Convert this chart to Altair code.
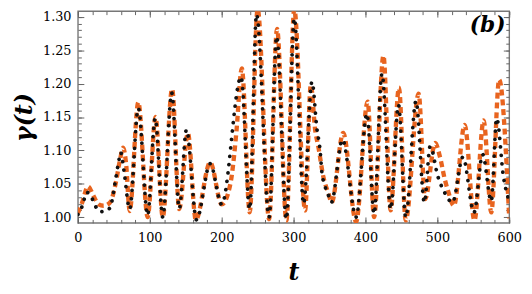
import altair as alt
import pandas as pd

# ---- data ----
orange_t = [0, 6, 14, 22, 28.8, 35.6, 44.7, 52.4, 58.4, 63, 67, 72, 84, 97, 108, 118, 131, 141, 153, 164,
            184, 200, 209, 213.7, 220.5, 228, 239, 250, 266, 277, 290, 301, 316, 324, 330, 334.7, 341.5,
            348.4, 353, 369, 387, 403, 412, 425, 435, 446.6, 456, 474, 483, 497, 503.7, 510.5, 515, 523,
            538, 551.6, 564.4, 575, 586, 600]
orange_y = [1.006, 1.022, 1.046, 1.031, 1.019, 1.017, 1.022, 1.050, 1.085, 1.104, 1.080, 1.009, 1.172, 1.000,
            1.150, 1.000, 1.192, 1.012, 1.126, 0.996, 1.082, 1.019, 1.036, 1.060, 1.128, 1.223, 1.007, 1.312,
            0.997, 1.282, 0.995, 1.312, 1.010, 1.198, 1.131, 1.104, 1.060, 1.036, 1.022, 1.126, 0.993, 1.173,
            1.000, 1.242, 1.010, 1.194, 0.995, 1.185, 1.027, 1.111, 1.090, 1.056, 1.039, 1.017, 1.138, 0.995,
            1.145, 1.007, 1.206, 0.998]

black_t = [0, 3, 8, 12, 17, 24, 31, 38, 44.7, 51.6, 57, 59.5, 64, 72, 84, 97, 107.5, 118, 130.5, 141, 151,
           165, 184, 200, 227, 239, 248.5, 266, 276.5, 290, 301, 314, 325.6, 332.4, 337, 339.3, 343.8, 348.4,
           352.5, 368, 387, 402, 412, 423, 435, 446, 456, 470.3, 482, 490, 501, 510.5, 521, 535.6, 551, 563,
           575, 582.6, 592, 600]
black_y = [1.004, 1.008, 1.024, 1.037, 1.034, 1.017, 1.008, 1.009, 1.014, 1.051, 1.085, 1.097, 1.070, 1.012,
           1.163, 1.003, 1.148, 1.000, 1.186, 1.013, 1.131, 0.996, 1.080, 1.019, 1.210, 1.012, 1.304, 1.000,
           1.271, 0.997, 1.298, 1.020, 1.203, 1.133, 1.099, 1.068, 1.046, 1.033, 1.022, 1.116, 1.000, 1.155,
           1.005, 1.215, 1.012, 1.168, 1.000, 1.174, 1.022, 1.106, 1.060, 1.036, 1.022, 1.090, 1.007, 1.094,
           1.024, 1.148, 1.060, 1.024]

x_major = [0, 100, 200, 300, 400, 500, 600]
x_minor = list(range(0, 601, 20))
y_major = [1.00, 1.05, 1.10, 1.15, 1.20, 1.25, 1.30]
y_minor = [round(0.99 + 0.01 * i, 2) for i in range(32)]

label_t = [570]
label_y = [1.288]
label_text = ["(b)"]

# ---- chart ----
W, H = 438, 215
FONT = "DejaVu Serif"
xs = alt.Scale(domain=[0, 600], nice=False, zero=False)
ys = alt.Scale(domain=[0.9913, 1.3087], nice=False, zero=False)

orange_df = pd.DataFrame({"t": orange_t, "y": orange_y})
black_df = pd.DataFrame({"t": black_t, "y": black_y})
label_df = pd.DataFrame({"t": label_t, "y": label_y, "label": label_text})

orange = alt.Chart(orange_df).mark_line(
    color="#E8641F", strokeWidth=4.4, strokeDash=[6, 4], strokeCap="butt",
    interpolate="monotone", clip=True
).encode(
    x=alt.X("t:Q", scale=xs, axis=alt.Axis(
        orient="bottom", values=x_major, ticks=False, tickSize=0, domain=False, grid=False,
        labelFont=FONT, labelFontSize=13, labelColor="black", labelPadding=9, labelFlush=False,
        title="t", titleFont=FONT, titleFontSize=24, titleFontStyle="italic", titleFontWeight="bold",
        titleColor="black", titlePadding=17)),
    y=alt.Y("y:Q", scale=ys, axis=alt.Axis(
        orient="left", values=y_major, format=".2f", ticks=False, tickSize=0, domain=False, grid=False,
        labelFont=FONT, labelFontSize=13, labelColor="black", labelPadding=7, labelFlush=False,
        title="γ(t)", titleFont=FONT, titleFontSize=24, titleFontStyle="italic", titleFontWeight="bold",
        titleColor="black", titlePadding=6)),
)

black = alt.Chart(black_df).mark_line(
    color="#111111", strokeWidth=3.8, strokeDash=[0.01, 8.5], strokeCap="round",
    interpolate="monotone", clip=True
).encode(
    x=alt.X("t:Q", scale=xs, axis=None),
    y=alt.Y("y:Q", scale=ys, axis=None),
)

label = alt.Chart(label_df).mark_text(
    font=FONT, fontSize=22, fontStyle="italic", fontWeight="bold", color="black",
    align="center", baseline="middle"
).encode(
    x=alt.X("t:Q", scale=xs, axis=None),
    y=alt.Y("y:Q", scale=ys, axis=None),
    text="label:N",
)


def tick_layer(xorient, yorient, xvals, yvals, size):
    return alt.Chart(orange_df).mark_point(opacity=0).encode(
        x=alt.X("t:Q", scale=xs, axis=alt.Axis(
            orient=xorient, offset=-H, values=xvals, labels=False, domain=False, grid=False,
            ticks=True, tickSize=size, tickColor="#666666", tickWidth=1, title=None)),
        y=alt.Y("y:Q", scale=ys, axis=alt.Axis(
            orient=yorient, offset=-W, values=yvals, labels=False, domain=False, grid=False,
            ticks=True, tickSize=size, tickColor="#666666", tickWidth=1, title=None)),
    )


chart = alt.layer(
    orange, black, label,
    tick_layer("top", "right", x_major, y_major, 6),
    tick_layer("top", "right", x_minor, y_minor, 3.5),
    tick_layer("bottom", "left", x_major, y_major, 6),
    tick_layer("bottom", "left", x_minor, y_minor, 3.5),
).resolve_axis(x="independent", y="independent").properties(
    width=W, height=H,
    padding={"left": 71, "top": 1, "right": 15, "bottom": 70},
    autosize=alt.AutoSizeParams(type="none"),
    background="white",
).configure_view(stroke="#777777", strokeWidth=1.4).configure_axis(grid=False)

chart.save("out.html", embed_options={"renderer": "svg", "actions": False})
